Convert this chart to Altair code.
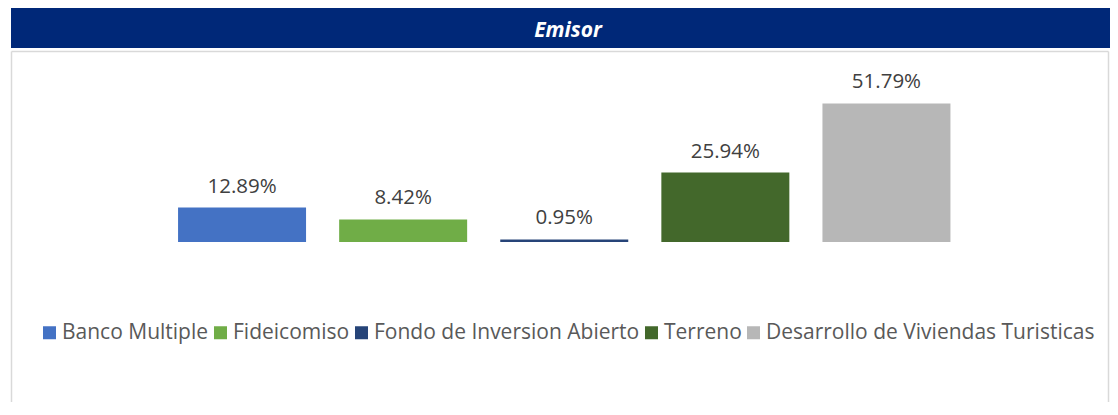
import altair as alt
import pandas as pd

categories = ["Banco Multiple", "Fideicomiso", "Fondo de Inversion Abierto", "Terreno",
              "Desarrollo de Viviendas Turisticas"]
values = [12.89, 8.42, 0.95, 25.94, 51.79]
labels = ["12.89%", "8.42%", "0.95%", "25.94%", "51.79%"]
colors = ["#4472C4", "#70AD47", "#264478", "#43682B", "#B7B7B7"]
title_text = "Emisor"

W, H = 1096, 350
FONT = "Open Sans"

df = pd.DataFrame({"cat": categories, "val": values, "lab": labels})
one = pd.DataFrame({"k": [0]})

x_enc = alt.X("cat:N", sort=categories, axis=None,
              scale=alt.Scale(range=[149.5, 955], paddingInner=0.2055, paddingOuter=0.10275))
y_enc = alt.Y("val:Q", axis=None, scale=alt.Scale(domain=[0, 71], range=[190, 0], nice=False))

bars = alt.Chart(df).mark_bar().encode(
    x=x_enc,
    y=y_enc,
    color=alt.Color("cat:N", sort=categories,
                    scale=alt.Scale(domain=categories, range=colors),
                    legend=alt.Legend(orient="none", legendX=27, legendY=270,
                                      direction="horizontal", title=None,
                                      symbolType="square", symbolSize=169,
                                      symbolStrokeWidth=0, symbolOpacity=1,
                                      labelFont=FONT, labelFontSize=21,
                                      labelColor="#595959", labelLimit=0,
                                      labelOffset=2, columnPadding=1)),
)

text = alt.Chart(df).mark_text(font=FONT, fontSize=20.5, color="#404040",
                               baseline="alphabetic", align="center", dy=-15).encode(
    x=x_enc, y=y_enc, text="lab:N"
)

title_bg = alt.Chart(one).mark_rect(color="#002878").encode(
    x=alt.value(-1), x2=alt.value(W + 2), y=alt.value(-44), y2=alt.value(-4)
)
title = alt.Chart(one).mark_text(text=title_text, font=FONT, fontSize=21, fontWeight="bold",
                                 fontStyle="italic", color="white",
                                 align="center", baseline="alphabetic").encode(
    x=alt.value(556), y=alt.value(-15)
)

border_col = "#D9D9D9"
top_rule = alt.Chart(one).mark_rule(color=border_col, strokeWidth=1.5).encode(
    x=alt.value(-0.5), x2=alt.value(W + 0.5), y=alt.value(-0.5)
)
left_rule = alt.Chart(one).mark_rule(color=border_col, strokeWidth=1.5).encode(
    x=alt.value(-0.5), y=alt.value(-0.5), y2=alt.value(H + 20)
)
right_rule = alt.Chart(one).mark_rule(color=border_col, strokeWidth=1.5).encode(
    x=alt.value(W + 0.5), y=alt.value(-0.5), y2=alt.value(H + 20)
)

chart = alt.layer(title_bg, title, top_rule, left_rule, right_rule, bars, text).properties(
    width=W, height=H,
    autosize=alt.AutoSizeParams(type="none"),
    padding={"left": 4, "top": 44, "right": 2, "bottom": 0},
).configure_view(stroke=None)

chart.save("out.html", embed_options={"renderer": "svg", "actions": False})
